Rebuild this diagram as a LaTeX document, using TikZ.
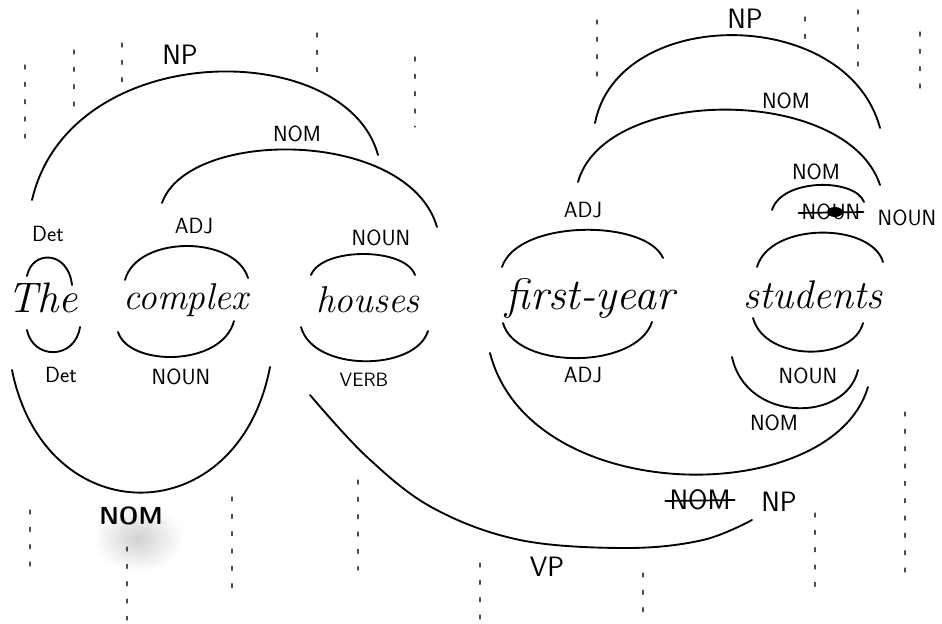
\documentclass[tikz,border=0pt]{standalone}
\usetikzlibrary{calc}
\begin{document}
\begin{tikzpicture}[x=0.75pt,y=-0.75pt,
  arc/.style={line width=1.4pt, line cap=round},
  word/.style={font=\fontsize{28}{32}\selectfont\itshape, inner sep=0pt},
  lab/.style={font=\fontsize{16.5}{18}\selectfont\sffamily, inner sep=0pt},
  biglab/.style={font=\fontsize{21}{23}\selectfont\sffamily, inner sep=0pt},
  dots/.style={line width=1pt, dash pattern=on 3pt off 10pt, black!70, line cap=round},
  strike/.style={line width=1.3pt, line cap=round}]
\useasboundingbox[fill=white] (0,0) rectangle (942,624);

% smudge
\shade[inner color=black!18, outer color=white] (138,538) ellipse (45 and 34);

% faint dotted marks
\foreach \x/\a/\b in {25/65/138, 74/50/108, 122/43/83, 317/33/82, 415/57/127,
  597/20/77, 805/17/48, 858/10/70, 920/32/97,
  30/510/578, 127/547/620, 232/497/592, 358/480/570,
  480/563/620, 643/573/623, 815/513/590, 905/412/573}
  \draw[dots] (\x,\a) -- (\x,\b);

% words
\node[word, font=\fontsize{32}{34}\selectfont\itshape] (the) at (43,298) {The};
\node[word] (complex) at (186,300) {complex};
\node[word] (houses) at (368,300) {houses};
\node[word, font=\fontsize{33}{36}\selectfont\itshape] (firstyear) at (590,298) {first-year};
\node[word, font=\fontsize{30}{33}\selectfont\itshape] (students) at (813,295) {students};

% labels above
\node[biglab] (npL) at (180,55) {NP};
\node[lab] (nomL) at (297,134) {NOM};
\node[lab] (detT) at (48,234) {Det};
\node[lab] (adjT) at (194,226) {ADJ};
\node[lab] (nounT) at (381,238) {NOUN};
\node[biglab] (npR) at (745,19) {NP};
\node[lab] (nomR) at (786,101) {NOM};
\node[lab] (nomS) at (816,172) {NOM};
\node[lab] (nounX) at (831,212) {NOUN};
\node[lab] (nounR) at (907,218) {NOUN};
\node[lab] (adjT2) at (583,210) {ADJ};

% labels below
\node[lab] (detB) at (61,375) {Det};
\node[lab, font=\fontsize{14.5}{16}\selectfont\sffamily] (verbB) at (364,380) {VERB};
\node[lab] (nounB) at (181,377) {NOUN};
\node[lab, font=\fontsize{18.5}{20}\selectfont\sffamily\bfseries] (nomB) at (131,516) {NOM};
\node[lab] (adjB) at (583,375) {ADJ};
\node[lab] (nounB2) at (808,376) {NOUN};
\node[lab] (nomB2) at (774,423) {NOM};
\node[biglab] (nomX) at (700,500) {NOM};
\node[biglab] (npB) at (779,502) {NP};
\node[biglab] (vpB) at (547,567) {VP};

% strike-outs
\draw[strike] (nounX.west) ++(-3,1) -- ($(nounX.east)+(3,0)$);
\fill ($(nounX.center)+(4,0)$) ellipse (8 and 5);
\draw[strike] (nomX.west) ++(-4,1) -- ($(nomX.east)+(4,0)$);

% arcs above (upward)
\draw[arc] (32,200) .. controls (70,37) and (346,37) .. (378,155);
\draw[arc] (162,203) .. controls (188,128) and (408,128) .. (437,227);
\draw[arc] (27,276) .. controls (32,250) and (68,250) .. (72,285);
\draw[arc] (125,280) .. controls (137,235) and (235,235) .. (248,278);
\draw[arc] (311,275) .. controls (322,247) and (405,247) .. (415,275);
\draw[arc] (595,123) .. controls (618,5) and (847,5) .. (880,128);
\draw[arc] (578,182) .. controls (605,85) and (847,85) .. (880,185);
\draw[arc] (772,210) .. controls (782,178) and (855,178) .. (864,202);
\draw[arc] (502,267) .. controls (518,219) and (646,219) .. (663,258);
\draw[arc] (757,267) .. controls (770,222) and (871,222) .. (883,262);

% arcs below (downward)
\draw[arc] (27,330) .. controls (33,360) and (75,360) .. (80,327);
\draw[arc] (118,332) .. controls (129,367) and (222,367) .. (234,321);
\draw[arc] (301,327) .. controls (313,372) and (415,372) .. (428,331);
\draw[arc] (12,370) .. controls (45,534) and (238,534) .. (270,367);
\draw[arc] plot[smooth, tension=0.6] coordinates {(310,395) (367,457) (433,508) (520,540) (627,548) (703,540) (752,520)};
\draw[arc] (503,323) .. controls (516,370) and (636,370) .. (652,322);
\draw[arc] (753,318) .. controls (765,362) and (853,362) .. (863,323);
\draw[arc] (732,357) .. controls (746,423) and (846,423) .. (858,370);
\draw[arc] (490,353) .. controls (530,509) and (832,509) .. (868,387);
\end{tikzpicture}
\end{document}
